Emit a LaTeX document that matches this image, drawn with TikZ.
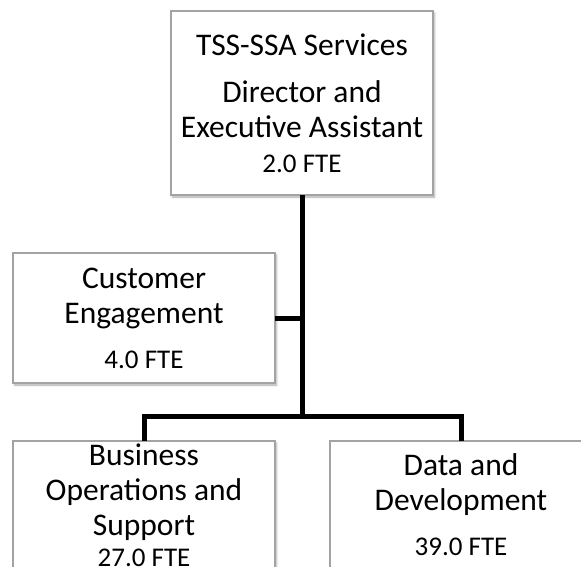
\documentclass[tikz,border=0pt]{standalone}
\usepackage{fontspec}
\setmainfont{Carlito}
\usetikzlibrary{shadows.blur}
\definecolor{boxgray}{HTML}{A3A3A3}
\tikzset{
  unitbox/.style={draw=boxgray, line width=1.2pt, fill=white, minimum width=262pt,
    inner sep=0pt, outer sep=0pt, anchor=north west,
    blur shadow={shadow xshift=1.5pt, shadow yshift=-2pt, shadow blur radius=2pt, shadow opacity=35}},
  big/.style={anchor=base, inner sep=0pt, font=\fontsize{31.5}{35}\selectfont},
  fte/.style={anchor=base, inner sep=0pt, font=\fontsize{27}{30}\selectfont},
  link/.style={line width=5pt, black},
}
\begin{document}
\begin{tikzpicture}[x=1pt, y=-1pt]
\useasboundingbox (0,0) rectangle (581,567);
\clip (0,0) rectangle (581,567);

% unit boxes
\node[unitbox, minimum height=184pt] (top)  at (171,11)  {};
\node[unitbox, minimum height=130pt] (cust) at (13,253)  {};
\node[unitbox, minimum height=170pt] (ops)  at (13,441)  {};
\node[unitbox, minimum height=170pt] (data) at (330,441) {};

% reporting lines
\coordinate (bar) at (302,416);
\draw[link] (top.south) -- (top.south |- bar);
\draw[link] (cust.east) -- (cust.east -| top.south);
\draw[link] (ops.north) |- (bar) -| (data.north);

% labels
\node[big] (t1) at (302,56)  {TSS-SSA Services};
\node[big] (t2) at (302,103) {Director and};
\node[big] (t3) at (302,138) {Executive Assistant};
\node[fte] (t4) at (302,172) {2.0 FTE};

\node[big] (c1) at (144,288) {Customer};
\node[big] (c2) at (144,323) {Engagement};
\node[fte] (c3) at (144,368) {4.0 FTE};

\node[big] (o1) at (144,465) {Business};
\node[big] (o2) at (144,500) {Operations and};
\node[big] (o3) at (144,535) {Support};
\node[fte] (o4) at (144,566) {27.0 FTE};

\node[big] (d1) at (461,475) {Data and};
\node[big] (d2) at (461,510) {Development};
\node[fte] (d3) at (461,555) {39.0 FTE};
\end{tikzpicture}
\end{document}
